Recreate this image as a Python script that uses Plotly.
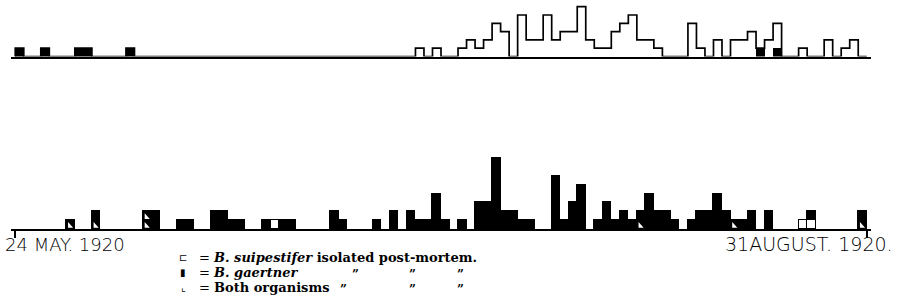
import numpy as np
import plotly.graph_objects as go

N_DAYS = 100  # 24 May 1920 .. 31 Aug 1920
date_labels = ["24 MAY. 1920", "31AUGUST. 1920."]

# ---- upper panel -------------------------------------------------------
top_gaertner_days = [0, 3, 7, 8, 13, 87, 89]
top_gaertner_vals = [1, 1, 1, 1, 1, 1, 1]
top_suip_days = [47, 49, 52, 53, 54, 55, 56, 57, 59, 60, 61, 62, 63, 64, 65, 66, 67,
                 68, 69, 70, 71, 72, 73, 74, 75, 79, 80, 82, 84, 85, 86, 88, 89,
                 92, 95, 97, 98]
top_suip_vals = [1, 1, 1, 2, 1, 2, 4, 3, 5, 2, 2, 5, 2, 3, 3, 6, 2,
                 1, 1, 3, 4, 5, 2, 2, 1, 4, 1, 2, 2, 2, 3, 2, 3,
                 1, 2, 1, 2]

# ---- lower panel -------------------------------------------------------
bot_both_days = [6, 9, 15, 73, 84, 99]
bot_both_vals = [1, 1, 2, 1, 1, 1]
bot_suip_days = [30, 92, 93]
bot_suip_vals = [1, 1, 1]
bot_gaertner_days = [9, 16, 19, 20, 23, 24, 25, 26, 29, 31, 32, 37, 38, 42, 44, 46, 47,
                     48, 49, 50, 52, 54, 55, 56, 57, 58, 59, 60, 63, 64, 65, 66, 68,
                     69, 70, 71, 72, 73, 74, 75, 76, 77, 79, 80, 81, 82, 83, 85, 86,
                     88, 93, 99]
bot_gaertner_vals = [1, 2, 1, 1, 2, 2, 1, 1, 1, 1, 1, 2, 1, 1, 2, 2, 1,
                     1, 4, 1, 1, 3, 3, 8, 2, 2, 1, 1, 6, 1, 3, 5, 1,
                     3, 1, 2, 1, 1, 4, 2, 2, 1, 1, 2, 2, 4, 2, 1, 2,
                     2, 1, 1]

legend_symbols = ["\u228f", "\u25ae", "\u231e"]
legend_texts = ["= <b><i>B. suipestifer</i> isolated post-mortem.</b>",
                "= <b><i>B. gaertner</i></b>",
                "= <b>Both organisms</b>"]
ditto = "<b>\u201d</b>"

W, H = 900, 307
ML, MR = 11, 29
PW = W - ML - MR


def px(x):
    return (x - ML) / PW


def py(y):
    return 1 - y / H


def dense(days, vals):
    a = np.zeros(N_DAYS)
    a[np.array(days)] = vals
    return a


fig = go.Figure()

# upper panel: black bars + step outline of total
top_g = dense(top_gaertner_days, top_gaertner_vals)
top_s = dense(top_suip_days, top_suip_vals)
top_total = top_g + top_s
fig.add_trace(go.Bar(x=top_gaertner_days, y=top_gaertner_vals, width=1,
                     marker=dict(color="black", line=dict(width=0)),
                     xaxis="x2", yaxis="y2", showlegend=False))
edges = np.arange(N_DAYS + 1) - 0.5
sx = np.concatenate([[edges[0]], edges, [edges[-1]]])
sy = np.concatenate([[0], top_total, [top_total[-1], 0]])
fig.add_trace(go.Scatter(x=sx, y=sy, mode="lines", line=dict(color="black", width=1.7, shape="hv"),
                         xaxis="x2", yaxis="y2", showlegend=False, hoverinfo="skip"))

# lower panel: stacked bars (both, suipestifer, gaertner)
fig.add_trace(go.Bar(x=bot_both_days, y=bot_both_vals, width=1,
                     marker=dict(color="black", line=dict(color="black", width=1)),
                     xaxis="x", yaxis="y", showlegend=False))
fig.add_trace(go.Bar(x=bot_suip_days, y=bot_suip_vals, width=1,
                     marker=dict(color="white", line=dict(color="black", width=1.5)),
                     xaxis="x", yaxis="y", showlegend=False))
fig.add_trace(go.Bar(x=bot_gaertner_days, y=bot_gaertner_vals, width=1,
                     marker=dict(color="black", line=dict(color="black", width=1)),
                     xaxis="x", yaxis="y", showlegend=False))

# white triangles marking "both organisms"
tx, ty = [], []
for d, v in zip(bot_both_days, bot_both_vals):
    for k in range(v):
        tx += [d - 0.3, d - 0.3, d + 0.3, d - 0.3, None]
        ty += [k + 0.15, k + 0.8, k + 0.15, k + 0.15, None]
fig.add_trace(go.Scatter(x=tx, y=ty, mode="lines", fill="toself", fillcolor="white",
                         line=dict(width=0, color="white"), xaxis="x", yaxis="y",
                         showlegend=False, hoverinfo="skip"))

annotations = []
date_font = dict(family="DejaVu Sans", size=18, color="black", weight=300)
annotations.append(dict(text=date_labels[0], x=px(3), y=py(244), xref="paper", yref="paper",
                        xanchor="left", yanchor="middle", showarrow=False, font=date_font))
annotations.append(dict(text=date_labels[1], x=px(895), y=py(244), xref="paper", yref="paper",
                        xanchor="right", yanchor="middle", showarrow=False,
                        font=dict(date_font, size=19)))

serif = dict(family="DejaVu Serif", size=13, color="black")
line_y = [257, 272, 287]
for sym, txt, yy in zip(legend_symbols, legend_texts, line_y):
    annotations.append(dict(text=sym, x=px(183), y=py(yy), xref="paper", yref="paper",
                            xanchor="center", yanchor="middle", showarrow=False,
                            font=dict(family="DejaVu Sans", size=10, color="black")))
    annotations.append(dict(text=txt, x=px(197), y=py(yy), xref="paper", yref="paper",
                            xanchor="left", yanchor="middle", showarrow=False, font=serif))
ditto_pos = [(355, 272), (412, 272), (460, 272), (343, 287), (412, 287), (460, 287)]
for xx, yy in ditto_pos:
    annotations.append(dict(text=ditto, x=px(xx), y=py(yy + 3), xref="paper", yref="paper",
                            xanchor="center", yanchor="middle", showarrow=False,
                            font=dict(family="DejaVu Serif", size=12, color="black")))

fig.update_layout(
    width=W, height=H,
    margin=dict(l=ML, r=MR, t=0, b=0, autoexpand=False),
    paper_bgcolor="white", plot_bgcolor="white",
    barmode="stack", bargap=0,
    showlegend=False,
    xaxis=dict(domain=[0, 1], range=[-1, N_DAYS], anchor="y", showline=True, linewidth=2,
               linecolor="black", ticks="outside", tickvals=[-0.5, N_DAYS - 0.5], ticklen=7,
               tickwidth=2, tickcolor="black", showticklabels=False, showgrid=False,
               zeroline=False),
    xaxis2=dict(domain=[0, 1], range=[-1, N_DAYS], anchor="y2", matches="x", showline=True,
                linewidth=2, linecolor="black", ticks="", showticklabels=False,
                showgrid=False, zeroline=False),
    yaxis=dict(domain=[py(229), py(229 - 8.5 * 8.8)], range=[0, 8.5], visible=False),
    yaxis2=dict(domain=[py(56.5), 1.0], range=[0, 56.5 / 8.3], visible=False),
    annotations=annotations,
)

fig.write_html("out.html", config={"displayModeBar": False},
               post_script="document.body.style.margin='0';document.body.style.padding='0';"
                           "document.body.style.overflow='hidden';")
